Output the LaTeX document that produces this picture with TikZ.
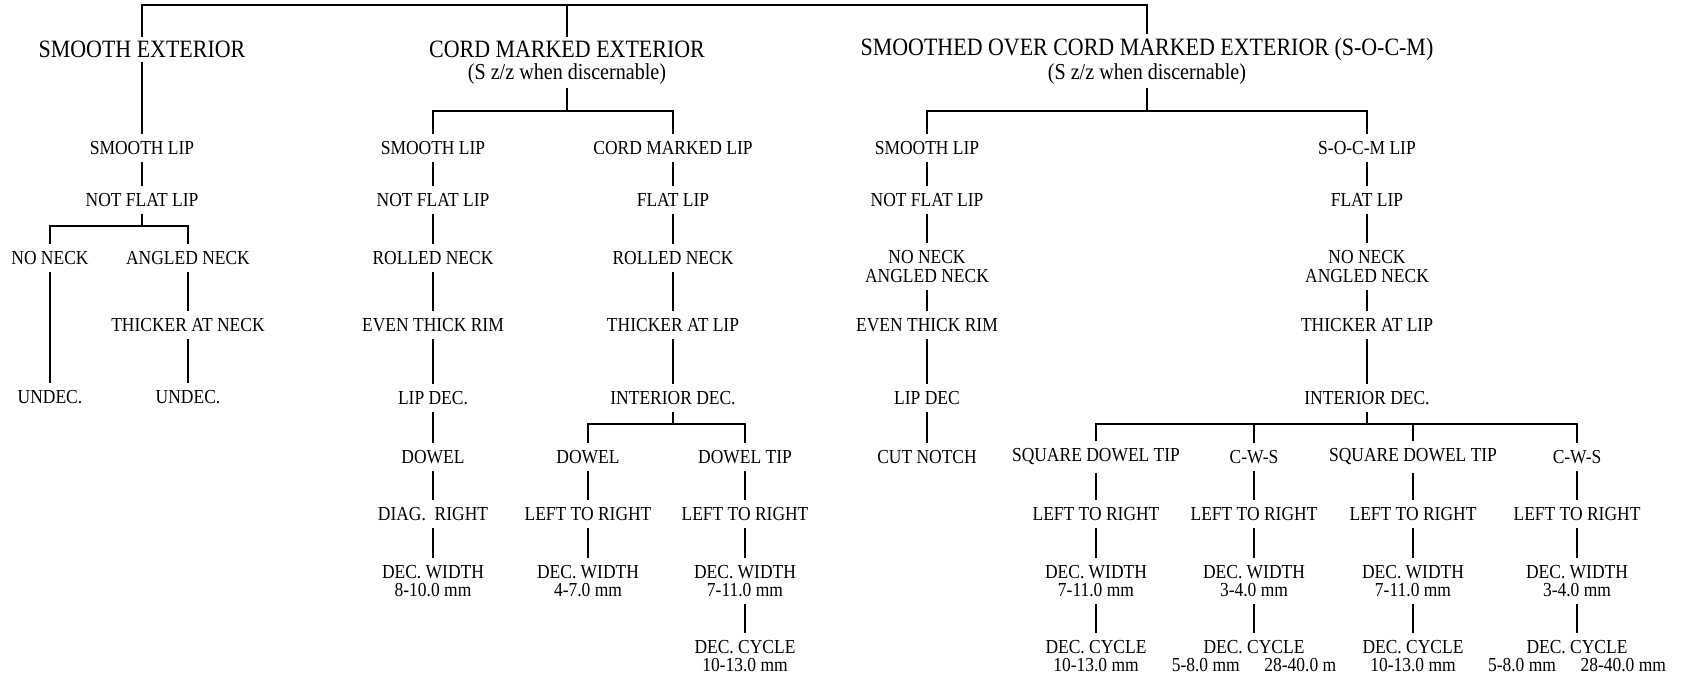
\documentclass[tikz,border=0pt]{standalone}
\usepackage{fontspec}
\setmainfont{Liberation Serif}[FakeStretch=0.88]
\usepackage{tikz}
\usetikzlibrary{positioning,calc}
\tikzset{
  ttl/.style={font=\fontsize{14.2}{16}\selectfont,inner sep=2pt},
  sub/.style={font=\fontsize{13}{15}\selectfont,inner sep=2pt},
  trait/.style={font=\fontsize{11.3}{10.3}\selectfont,align=center,inner xsep=2pt,inner ysep=4pt},
  ln/.style={line width=0.8pt,black},
}

\begin{document}
\begin{tikzpicture}[x=1cm,y=1cm]
  \useasboundingbox (0,0) rectangle (33.72,-13.52);
  % exterior classes
  \node[ttl] (se)    at (2.84,-0.99)  {SMOOTH EXTERIOR};
  \node[ttl] (cme)   at (11.34,-0.99) {CORD MARKED EXTERIOR};
  \node[sub] (cmes)  at (11.34,-1.48) {(S z/z when discernable)};
  \node[ttl] (socm)  at (22.94,-0.99) {SMOOTHED OVER CORD MARKED EXTERIOR (S-O-C-M)};
  \node[sub] (socms) at (22.94,-1.48) {(S z/z when discernable)};
  \coordinate (j0) at (11.34,-0.10);
  \draw[ln] (se) |- (j0) -| (socm);
  \draw[ln] (cme) -- (cme |- j0);

  % smooth exterior
  \node[trait] (sl1)  at (2.84,-2.96) {SMOOTH LIP};
  \node[trait] (nfl1) at (2.84,-4.00) {NOT FLAT LIP};
  \node[trait] (nn1)  at (1.00,-5.16) {NO NECK};
  \node[trait] (an1)  at (3.76,-5.16) {ANGLED NECK};
  \node[trait] (tn1)  at (3.76,-6.50) {THICKER AT NECK};
  \node[trait] (ud1)  at (1.00,-7.94) {UNDEC.};
  \node[trait] (ud2)  at (3.76,-7.94) {UNDEC.};
  \coordinate (j1) at (2.84,-4.52);
  \draw[ln] (se) -- (sl1) -- (nfl1) -- (j1);
  \draw[ln] (nn1) |- (j1) -| (an1);
  \draw[ln] (nn1) -- (ud1);
  \draw[ln] (an1) -- (tn1) -- (ud2);

  % cord marked exterior
  \node[trait] (sl2)  at (8.66,-2.96)  {SMOOTH LIP};
  \node[trait] (nfl2) at (8.66,-4.00)  {NOT FLAT LIP};
  \node[trait] (rn2)  at (8.66,-5.16)  {ROLLED NECK};
  \node[trait] (etr2) at (8.66,-6.50)  {EVEN THICK RIM};
  \node[trait] (ld2)  at (8.66,-7.96)  {LIP DEC.};
  \node[trait] (dw2)  at (8.66,-9.14)  {DOWEL};
  \node[trait] (dr2)  at (8.66,-10.28) {DIAG.\ \ RIGHT};
  \node[trait] (wd2)  at (8.66,-11.62) {DEC. WIDTH\\8-10.0 mm};
  \node[trait] (cml)  at (13.46,-2.96) {CORD MARKED LIP};
  \node[trait] (fl2)  at (13.46,-4.00) {FLAT LIP};
  \node[trait] (rn2b) at (13.46,-5.16) {ROLLED NECK};
  \node[trait] (tl2)  at (13.46,-6.50) {THICKER AT LIP};
  \node[trait] (id2)  at (13.46,-7.96) {INTERIOR DEC.};
  \node[trait] (dwl2) at (11.76,-9.14)  {DOWEL};
  \node[trait] (lr2a) at (11.76,-10.28) {LEFT TO RIGHT};
  \node[trait] (wd2a) at (11.76,-11.62) {DEC. WIDTH\\4-7.0 mm};
  \node[trait] (dt2)  at (14.90,-9.14)  {DOWEL TIP};
  \node[trait] (lr2b) at (14.90,-10.28) {LEFT TO RIGHT};
  \node[trait] (wd2b) at (14.90,-11.62) {DEC. WIDTH\\7-11.0 mm};
  \node[trait] (cy2b) at (14.90,-13.13) {DEC. CYCLE\\10-13.0 mm};
  \coordinate (j2) at (11.34,-2.22);
  \coordinate (j3) at (13.46,-8.48);
  \draw[ln] (cmes) -- (j2);
  \draw[ln] (sl2) |- (j2) -| (cml);
  \draw[ln] (sl2) -- (nfl2) -- (rn2) -- (etr2) -- (ld2) -- (dw2) -- (dr2) -- (wd2);
  \draw[ln] (cml) -- (fl2) -- (rn2b) -- (tl2) -- (id2) -- (j3);
  \draw[ln] (dwl2) |- (j3) -| (dt2);
  \draw[ln] (dwl2) -- (lr2a) -- (wd2a);
  \draw[ln] (dt2) -- (lr2b) -- (wd2b) -- (cy2b);

  % smoothed over cord marked exterior
  \node[trait] (sl3)  at (18.54,-2.96) {SMOOTH LIP};
  \node[trait] (nfl3) at (18.54,-4.00) {NOT FLAT LIP};
  \node[trait] (na3)  at (18.54,-5.33) {NO NECK\\ANGLED NECK};
  \node[trait] (etr3) at (18.54,-6.50) {EVEN THICK RIM};
  \node[trait] (ld3)  at (18.54,-7.96) {LIP DEC};
  \node[trait] (cn3)  at (18.54,-9.14) {CUT NOTCH};
  \node[trait] (scl)  at (27.34,-2.96) {S-O-C-M LIP};
  \node[trait] (fl3)  at (27.34,-4.00) {FLAT LIP};
  \node[trait] (na3b) at (27.34,-5.33) {NO NECK\\ANGLED NECK};
  \node[trait] (tl3)  at (27.34,-6.50) {THICKER AT LIP};
  \node[trait] (id3)  at (27.34,-7.96) {INTERIOR DEC.};
  \node[trait] (tipA) at (21.92,-9.14) {SQUARE DOWEL TIP};
  \node[trait] (tipB) at (25.08,-9.14) {C-W-S};
  \node[trait] (tipC) at (28.26,-9.14) {SQUARE DOWEL TIP};
  \node[trait] (tipD) at (31.54,-9.14) {C-W-S};
  \node[trait] (lrA)  at (21.92,-10.28) {LEFT TO RIGHT};
  \node[trait] (lrB)  at (25.08,-10.28) {LEFT TO RIGHT};
  \node[trait] (lrC)  at (28.26,-10.28) {LEFT TO RIGHT};
  \node[trait] (lrD)  at (31.54,-10.28) {LEFT TO RIGHT};
  \node[trait] (wdA)  at (21.92,-11.62) {DEC. WIDTH\\7-11.0 mm};
  \node[trait] (wdB)  at (25.08,-11.62) {DEC. WIDTH\\3-4.0 mm};
  \node[trait] (wdC)  at (28.26,-11.62) {DEC. WIDTH\\7-11.0 mm};
  \node[trait] (wdD)  at (31.54,-11.62) {DEC. WIDTH\\3-4.0 mm};
  \node[trait] (cyA)  at (21.92,-13.13) {DEC. CYCLE\\10-13.0 mm};
  \node[trait] (cyB)  at (25.08,-13.13) {DEC. CYCLE\\5-8.0 mm\hspace{14pt}28-40.0 m};
  \node[trait] (cyC)  at (28.26,-13.13) {DEC. CYCLE\\10-13.0 mm};
  \node[trait] (cyD)  at (31.54,-13.13) {DEC. CYCLE\\5-8.0 mm\hspace{14pt}28-40.0 mm};
  \coordinate (j5) at (22.94,-2.22);
  \coordinate (j4) at (27.34,-8.48);
  \draw[ln] (socms) -- (j5);
  \draw[ln] (sl3) |- (j5) -| (scl);
  \draw[ln] (sl3) -- (nfl3) -- (na3) -- (etr3) -- (ld3) -- (cn3);
  \draw[ln] (scl) -- (fl3) -- (na3b) -- (tl3) -- (id3) -- (j4);
  \draw[ln] (tipA) |- (j4) -| (tipD);
  \draw[ln] (tipB) -- (tipB |- j4);
  \draw[ln] (tipC) -- (tipC |- j4);
  \foreach \k in {A,B,C,D}
    \draw[ln] (tip\k) -- (lr\k) -- (wd\k) -- (cy\k);
\end{tikzpicture}
\end{document}
